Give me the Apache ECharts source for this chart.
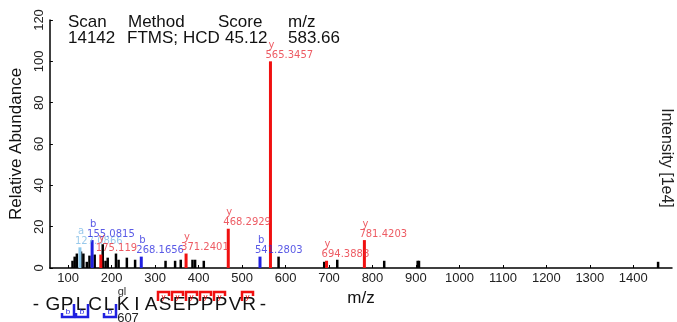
<!DOCTYPE html>
<html>
<head>
<meta charset="utf-8">
<script src="https://cdn.jsdelivr.net/npm/echarts@6/dist/echarts.min.js"></script>
<style>
  html, body { margin: 0; padding: 0; background: #fff; }
  #chart { width: 677px; height: 322px; }
</style>
</head>
<body>
<div id="chart"></div>
<script>
// unmatched peaks (m/z, relative abundance)
var otherMz  = [110, 115, 120, 129.5, 135, 143, 149, 161, 179.5, 186, 191, 210, 216, 235, 254, 324, 346, 359, 386, 392, 412, 584, 689, 719, 827, 904, 907, 1457];
var otherInt = [3.5, 5.5, 7, 8, 7, 3, 6, 6.5, 11.5, 3.5, 5, 7, 4, 5, 4, 3.5, 3.5, 4, 4, 4, 3.5, 5.5, 3, 4, 3.5, 3.5, 3.5, 3];

// annotated fragment ions
var yMz  = [175.119, 371.2401, 468.2929, 565.3457, 694.3888, 781.4203];
var yInt = [6.5, 7, 19, 100, 3.5, 13.5];
var yTxt = ['175.119', '371.2401', '468.2929', '565.3457', '694.3888', '781.4203'];

var bMz  = [155.0815, 268.1656, 541.2803];
var bInt = [13.5, 5.5, 5.5];
var bTxt = ['155.0815', '268.1656', '541.2803'];

var aMz  = [127.0866];
var aInt = [10];
var aTxt = ['127.0866'];

var xTicks = [100, 200, 300, 400, 500, 600, 700, 800, 900, 1000, 1100, 1200, 1300, 1400];

var sequence = ['-', 'G', 'P', 'L', 'C', 'L', 'K', 'I', 'A', 'S', 'E', 'P', 'P', 'P', 'V', 'R', '-'];
var bCuts = [2, 3, 5];          // b2, b3, b5 : cut after residue index
var yCuts = [8, 9, 10, 11, 12, 14]; // y7..y3, y1

var RED = '#f01010', BLUE = '#2020e0', LBLUE = '#8cc8ec';

function zip(a, b) { return a.map(function (v, i) { return [v, b[i]]; }); }

function sticks(name, mz, ints, color, w, z) {
  return {
    name: name, type: 'custom', z: z,
    data: zip(mz, ints),
    renderItem: function (params, api) {
      var top = api.coord([api.value(0), api.value(1)]);
      var base = api.coord([api.value(0), 0]);
      return { type: 'rect', shape: { x: top[0] - w / 2, y: top[1], width: w, height: base[1] - top[1] },
               style: { fill: color } };
    }
  };
}

function labels(name, mz, ints, txt, ion, color, z) {
  return {
    name: name, type: 'scatter', symbolSize: 0, z: z,
    data: zip(mz, ints).map(function (d, i) { return { value: d, txt: txt[i] }; }),
    label: {
      show: true, position: 'top', distance: 1, align: 'left', offset: [-5, 0],
      color: color, fontFamily: 'DejaVu Sans', fontSize: 10, lineHeight: 10,
      formatter: function (p) { return '{i|' + ion + '}\n{m|' + p.data.txt + '}'; },
      rich: { i: { color: color, fontSize: 10, lineHeight: 10, padding: [0, 0, 0, 3] },
              m: { color: color, fontSize: 10, lineHeight: 10 } }
    }
  };
}

// header + sequence annotation
var graphics = [];
function txt(s, x, y, size, opts) {
  var st = Object.assign({ text: s, fill: '#111', font: size + 'px "Liberation Sans"', textVerticalAlign: 'middle' }, opts || {});
  graphics.push({ type: 'text', x: x, y: y, style: st, z: 100 });
}
txt('Scan', 68, 22, 17); txt('Method', 128, 22, 17); txt('Score', 218, 22, 17); txt('m/z', 288, 22, 17);
txt('14142', 68, 38, 17); txt('FTMS;', 127, 38, 17); txt('HCD', 183, 38, 17); txt('45.12', 225, 38, 17); txt('583.66', 288, 38, 17);

graphics.push({ type: 'text', x: 666, y: 158, rotation: -Math.PI / 2,
  style: { text: 'Intensity [1e4]', fill: '#222', font: '16px "Liberation Sans"', textAlign: 'center', textVerticalAlign: 'middle' } });

function seqX(i) { return i === 0 ? 36 : 39 + i * 14; }
sequence.forEach(function (s, i) { txt(s, seqX(i), 305, 19, { textAlign: 'center', fill: '#111' }); });
txt('gl', 122, 292, 11, { textAlign: 'center', fill: '#333' });
txt('607', 128, 318, 13, { textAlign: 'center', fill: '#222' });

bCuts.forEach(function (c) {
  var x = 46 + c * 14;
  graphics.push({ type: 'polyline', shape: { points: [[x - 12, 313], [x - 12, 317], [x, 317], [x, 304]] },
    style: { stroke: BLUE, lineWidth: 2.5, fill: null }, z: 100 });
  txt('b', x - 6, 312, 8, { textAlign: 'center', fill: BLUE });
});
yCuts.forEach(function (c) {
  var x = 46 + c * 14;
  graphics.push({ type: 'polyline', shape: { points: [[x, 301], [x, 292], [x + 11, 292], [x + 11, 296]] },
    style: { stroke: RED, lineWidth: 2.5, fill: null }, z: 100 });
  txt('y', x + 5.5, 297, 8, { textAlign: 'center', fill: RED });
});

var chart = echarts.init(document.getElementById('chart'));
chart.setOption({
  animation: false,
  textStyle: { fontFamily: 'Liberation Sans' },
  grid: { left: 47, right: 5, top: 20, bottom: 54 },
  xAxis: {
    type: 'value', min: 58, max: 1489,
    name: 'm/z', nameLocation: 'middle', nameGap: 14,
    nameTextStyle: { fontSize: 17, color: '#111' },
    axisLine: { lineStyle: { color: '#000', width: 1.5 } },
    axisTick: { customValues: xTicks, inside: true, length: 3, lineStyle: { color: '#000' } },
    axisLabel: { customValues: xTicks, fontSize: 13, color: '#222', margin: 4,
                 formatter: function (v) { return String(v); } },
    splitLine: { show: false }
  },
  yAxis: {
    type: 'value', min: 0, max: 120, interval: 20,
    name: 'Relative Abundance', nameLocation: 'middle', nameGap: 22,
    nameTextStyle: { fontSize: 17, color: '#111' },
    axisLine: { show: true, lineStyle: { color: '#000', width: 1.5 } },
    axisTick: { show: true, inside: true, length: 3, lineStyle: { color: '#000' } },
    axisLabel: { rotate: 90, fontSize: 13, color: '#222', margin: 4 },
    splitLine: { show: false }
  },
  series: [
    sticks('other', otherMz, otherInt, '#000', 2.5, 2),
    sticks('a', aMz, aInt, LBLUE, 3, 3),
    sticks('b', bMz, bInt, BLUE, 3, 3),
    sticks('y', yMz, yInt, RED, 3, 3),
    labels('aLab', aMz, aInt, aTxt, 'a', '#7fbce6', 4),
    labels('bLab', bMz, bInt, bTxt, 'b', '#3030e0', 5),
    labels('yLab', yMz, yInt, yTxt, 'y', '#e8323c', 6)
  ],
  graphic: graphics
});
</script>
</body>
</html>
